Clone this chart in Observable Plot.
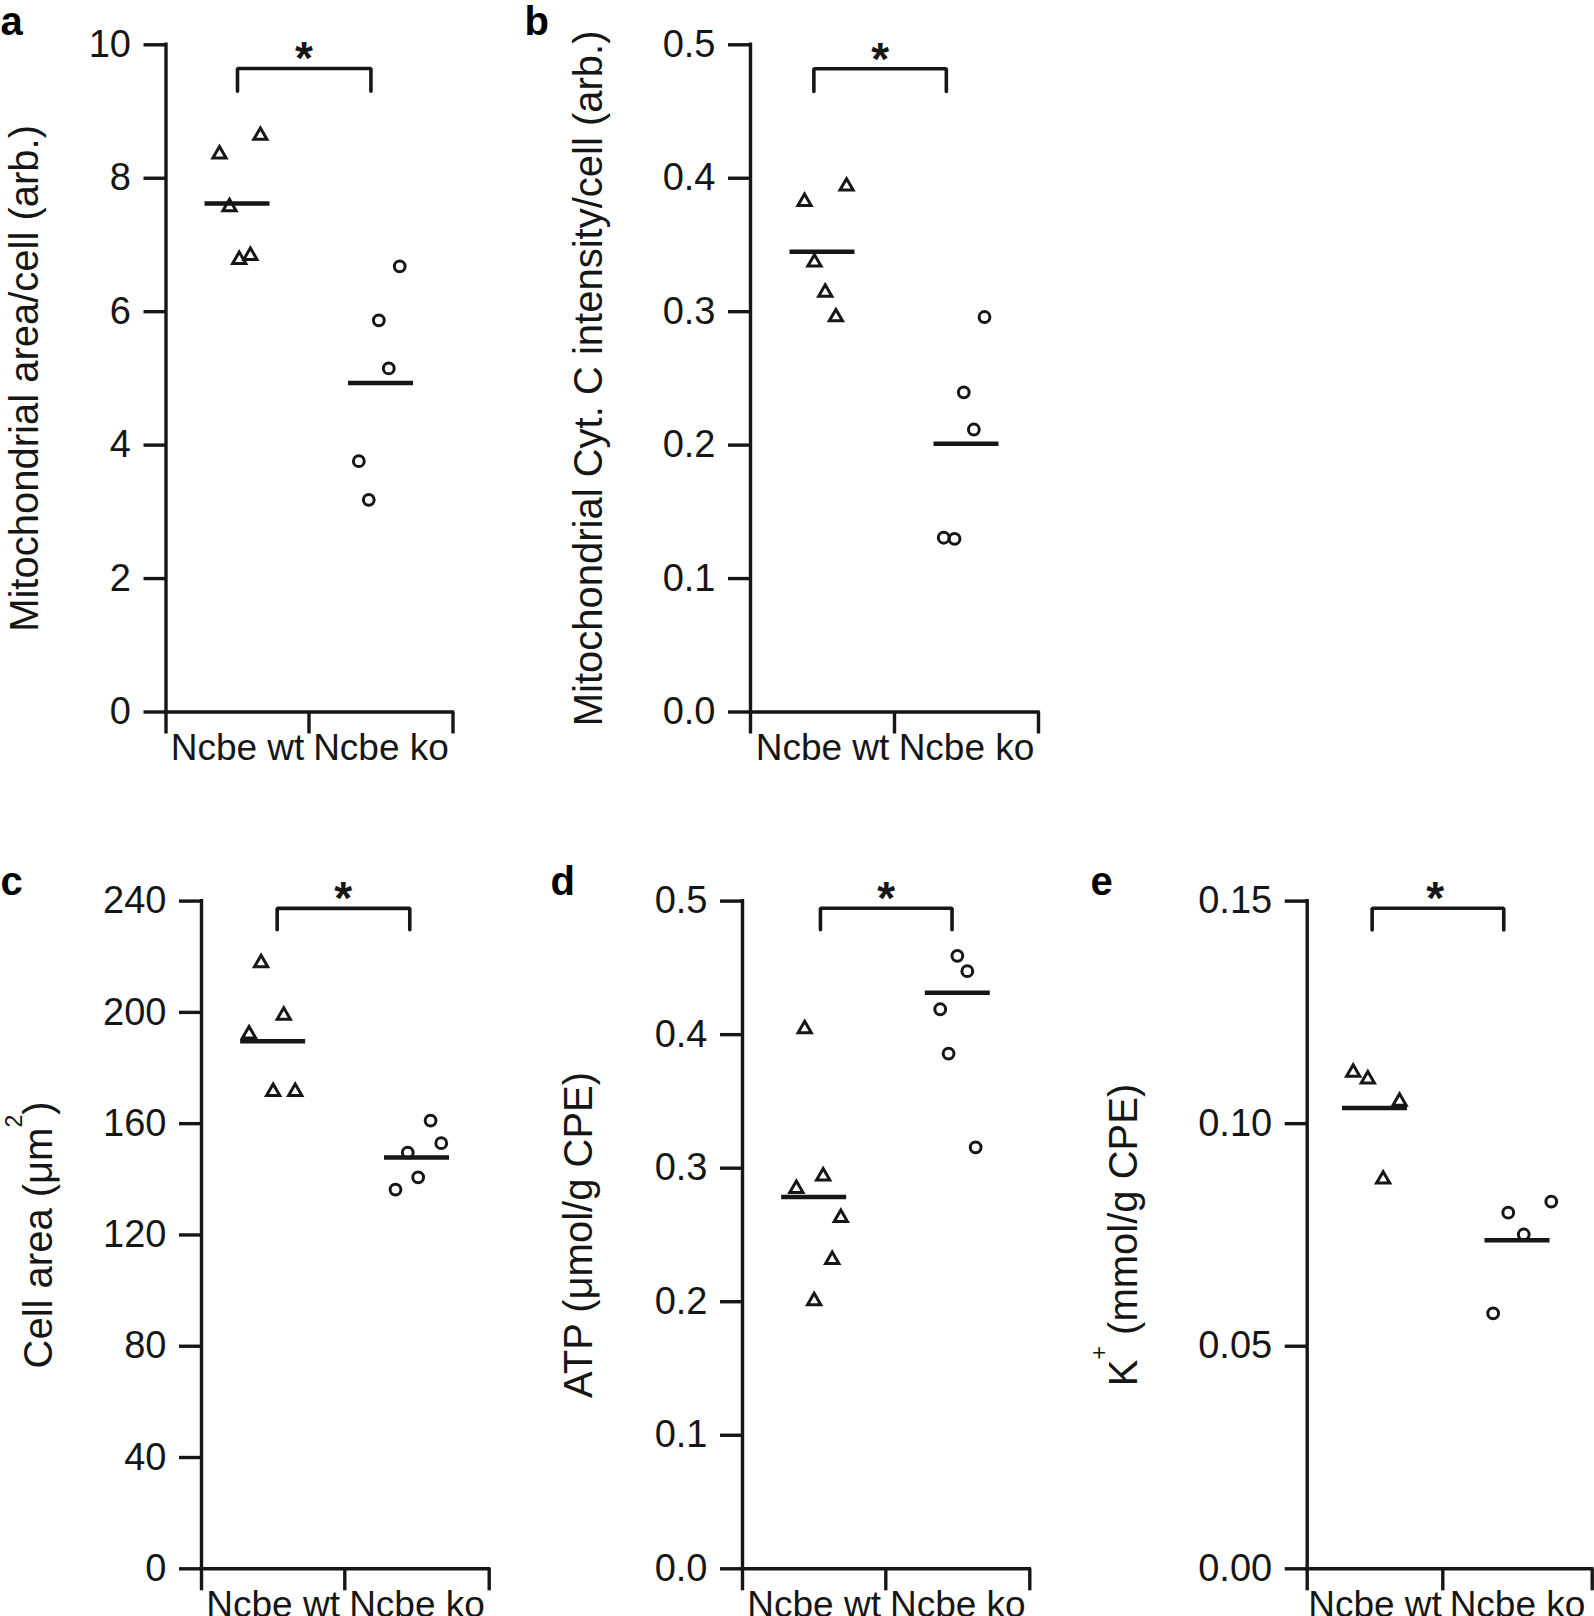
<!DOCTYPE html>
<html><head><meta charset="utf-8">
<script src="https://cdn.jsdelivr.net/npm/d3@7"></script>
<script src="https://cdn.jsdelivr.net/npm/@observablehq/plot@0.6"></script>
<style>
html,body{margin:0;padding:0;background:#fff;}
body{width:1594px;height:1616px;position:relative;overflow:hidden;font-family:"Liberation Sans",Arial,Helvetica,sans-serif;}
</style></head><body>
<script>
// ---------------- data ----------------
const categories = ["Ncbe wt", "Ncbe ko"];

// a: Mitochondrial area/cell
const aWt = [8.36, 8.64, 7.57, 6.78, 6.84];
const aWtJitter = [-0.126, 0.16, -0.056, 0.012, 0.09];
const aKo = [6.68, 5.87, 5.15, 3.76, 3.18];
const aKoJitter = [0.13, -0.015, 0.054, -0.154, -0.085];
const aMeans = [7.62, 4.93];
const aTicks = [0, 2, 4, 6, 8, 10];
const aBracket = [0.5, 1.43, 9.645, 9.305]; // x1, x2, top, leg end
const aTitle = "Mitochondrial area/cell (arb.)";

// b: Mitochondrial Cyt. C intensity/cell
const bWt = [0.3825, 0.394, 0.337, 0.3145, 0.296];
const bWtJitter = [-0.125, 0.167, -0.056, 0.019, 0.093];
const bKo = [0.296, 0.2396, 0.2117, 0.1306, 0.1298];
const bKoJitter = [0.125, -0.019, 0.051, -0.158, -0.083];
const bMeans = [0.345, 0.201];
const bTicks = [0, 0.1, 0.2, 0.3, 0.4, 0.5];
const bBracket = [0.44, 1.36, 0.482, 0.465];
const bTitle = "Mitochondrial Cyt. C intensity/cell (arb.)";

// c: Cell area
const cWt = [217.8, 198.9, 192.2, 171.5, 171.5];
const cWtJitter = [-0.084, 0.074, -0.168, 0, 0.154];
const cKo = [161.1, 149.6, 153, 136.3, 140.7];
const cKoJitter = [0.094, -0.064, 0.168, -0.149, 0.008];
const cMeans = [189.6, 147.8];
const cTicks = [0, 40, 80, 120, 160, 200, 240];
const cBracket = [0.528, 1.45, 237.4, 229.7];
const cTitle = [["Cell area (μm", false], ["2", true], [")", false]];

// d: ATP
const dWt = [0.4043, 0.294, 0.2847, 0.263, 0.2315, 0.2006];
const dWtJitter = [-0.066, 0.063, -0.124, 0.186, 0.126, 0];
const dKo = [0.459, 0.4475, 0.419, 0.3858, 0.3156];
const dKoJitter = [-0.003, 0.066, -0.122, -0.064, 0.124];
const dMeans = [0.2785, 0.4313];
const dTicks = [0, 0.1, 0.2, 0.3, 0.4, 0.5];
const dBracket = [0.544, 1.46, 0.4946, 0.4785];
const dTitle = "ATP (μmol/g CPE)";

// e: K+
const eWt = [0.1115, 0.110, 0.105, 0.0875];
const eWtJitter = [-0.161, -0.053, 0.181, 0.06];
const eKo = [0.080, 0.0825, 0.0751, 0.0574];
const eKoJitter = [-0.062, 0.226, 0.042, -0.163];
const eMeans = [0.1035, 0.0738];
const eTicks = [0, 0.05, 0.10, 0.15];
const eBracket = [0.479, 1.408, 0.1484, 0.1435];
const eTitle = [["K", false], ["+", true], [" (mmol/g CPE)", false]];

// ---------------- layout (page pixels) ----------------
const layout = {
  a: {left: 0, top: 0, w: 510, h: 790, x0: 165.5, xm: 308.5, x2: 452.5, yTop: 44.3, yBot: 711.5, titleX: 37, letterX: 0, letterY: 34},
  b: {left: 520, top: 0, w: 540, h: 790, x0: 750, xm: 894, x2: 1038, yTop: 44.3, yBot: 711.5, titleX: 601, letterX: 524, letterY: 34},
  c: {left: 0, top: 850, w: 520, h: 766, x0: 201, xm: 344.3, x2: 488.7, yTop: 900.6, yBot: 1568.3, titleX: 51, letterX: 0, letterY: 894},
  d: {left: 530, top: 850, w: 530, h: 766, x0: 742, xm: 885.3, x2: 1029.3, yTop: 900.6, yBot: 1568.3, titleX: 591, letterX: 550, letterY: 894},
  e: {left: 1080, top: 850, w: 514, h: 766, x0: 1306.7, xm: 1442.3, x2: 1591.7, yTop: 900.6, yBot: 1568.3, titleX: 1136, letterX: 1090, letterY: 894}
};

const INK = "#161616";
const FONT = "'Liberation Sans', Arial, Helvetica, sans-serif";

function panel(letter, cfg) {
  const L = layout[letter];
  const yMax = cfg.ticks[cfg.ticks.length - 1];
  const bw = [L.xm - L.x0, L.x2 - L.xm];
  const half = bw.map(w => 32.5 / w);
  const wtPts = cfg.wt.map((v, i) => ({x: 0.5 + cfg.wtJ[i], y: v}));
  const koPts = cfg.ko.map((v, i) => ({x: 1.5 + cfg.koJ[i], y: v}));
  const means = cfg.means.map((m, i) => ({y: m, c: i}));
  const [bx1, bx2, by, bleg] = cfg.bracket;
  const bracketPts = [[bx1, bleg], [bx1, by], [bx2, by], [bx2, bleg]];
  const titleStr = typeof cfg.title === "string" ? cfg.title : cfg.title.map(p => p[0]).join("");

  const svg = Plot.plot({
    width: L.w, height: L.h,
    marginLeft: L.x0 - L.left,
    marginRight: L.w - (L.x2 - L.left),
    marginTop: L.yTop - L.top,
    marginBottom: L.h - (L.yBot - L.top),
    x: {type: "linear", domain: [0, 1, 2], range: [L.x0 - L.left, L.xm - L.left, L.x2 - L.left], label: null},
    y: {type: "linear", domain: [0, yMax], range: [L.yBot - L.top, L.yTop - L.top], label: null},
    style: {fontFamily: FONT, fontSize: "38px", color: INK, background: "transparent", overflow: "visible"},
    marks: [
      Plot.axisY({ticks: cfg.ticks, tickFormat: d3.format(cfg.fmt), tickSize: 22, tickPadding: 13, fontSize: 38, strokeWidth: 3.4, label: null}),
      Plot.axisX({ticks: [0, 1, 2], tickSize: 22, tickFormat: () => "", strokeWidth: 3.4, label: null}),
      Plot.axisX({ticks: [0.5, 1.5], tickSize: 0, tickPadding: 22, tickFormat: d => categories[Math.floor(d)], fontSize: 37, label: null}),
      Plot.ruleX([0], {y1: 0, y2: yMax, stroke: INK, strokeWidth: 3.4, strokeLinecap: "square"}),
      Plot.ruleY([0], {x1: 0, x2: 2, stroke: INK, strokeWidth: 3.4, strokeLinecap: "square"}),
      Plot.ruleY(means, {y: "y", x1: d => d.c + 0.5 - half[d.c], x2: d => d.c + 0.5 + half[d.c], stroke: INK, strokeWidth: 4.5}),
      Plot.dot(wtPts, {x: "x", y: "y", symbol: "triangle", r: 4.9, stroke: INK, strokeWidth: 3, fill: "none"}),
      Plot.dot(koPts, {x: "x", y: "y", symbol: "circle", r: 5.4, stroke: INK, strokeWidth: 3, fill: "none"}),
      Plot.line(bracketPts, {x: d => d[0], y: d => d[1], stroke: INK, strokeWidth: 3.6, strokeLinejoin: "miter"}),
      Plot.text([(bx1 + bx2) / 2], {x: d => d, y: by, text: () => "*", lineAnchor: "bottom", dy: 6, fontSize: 46, fontWeight: "bold", fill: INK}),
      Plot.text([titleStr], {frameAnchor: "left", dx: L.titleX - L.x0, rotate: -90, textAnchor: "middle", lineAnchor: "bottom", fontSize: 40, fill: INK}),
      Plot.text([letter], {frameAnchor: "top-left", dx: L.letterX - L.x0, dy: L.letterY - L.yTop, textAnchor: "start", lineAnchor: "bottom", fontSize: 40, fontWeight: "bold", fill: "#000"})
    ]
  });

  // superscripts in axis title
  if (typeof cfg.title !== "string") {
    const t = d3.select(svg).selectAll("text").filter(function() { return this.textContent === titleStr; });
    t.text(null);
    let shifted = false;
    cfg.title.forEach(([s, sup]) => {
      const ts = t.append("tspan").text(s);
      if (sup) { ts.attr("dy", -30).attr("font-size", 23); shifted = true; }
      else if (shifted) { ts.attr("dy", 30); shifted = false; }
    });
  }

  svg.style.position = "absolute";
  svg.style.left = L.left + "px";
  svg.style.top = L.top + "px";
  document.body.appendChild(svg);
}

panel("a", {wt: aWt, wtJ: aWtJitter, ko: aKo, koJ: aKoJitter, means: aMeans, ticks: aTicks, fmt: "d", bracket: aBracket, title: aTitle});
panel("b", {wt: bWt, wtJ: bWtJitter, ko: bKo, koJ: bKoJitter, means: bMeans, ticks: bTicks, fmt: ".1f", bracket: bBracket, title: bTitle});
panel("c", {wt: cWt, wtJ: cWtJitter, ko: cKo, koJ: cKoJitter, means: cMeans, ticks: cTicks, fmt: "d", bracket: cBracket, title: cTitle});
panel("d", {wt: dWt, wtJ: dWtJitter, ko: dKo, koJ: dKoJitter, means: dMeans, ticks: dTicks, fmt: ".1f", bracket: dBracket, title: dTitle});
panel("e", {wt: eWt, wtJ: eWtJitter, ko: eKo, koJ: eKoJitter, means: eMeans, ticks: eTicks, fmt: ".2f", bracket: eBracket, title: eTitle});
</script>
</body></html>
